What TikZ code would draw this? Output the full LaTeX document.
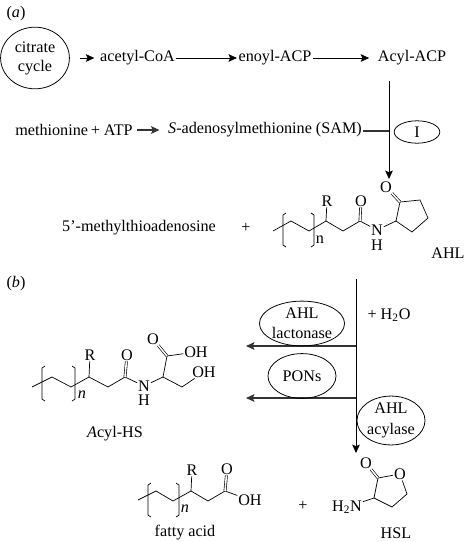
\documentclass[tikz,border=0pt]{standalone}
\usepackage{fontspec}
\setmainfont{Liberation Serif}
\usetikzlibrary{arrows.meta,shapes.geometric}
\begin{document}
\begin{tikzpicture}[x=0.025cm,y=-0.025cm]
\tikzset{
    txt/.style={inner sep=1pt,align=center,font=\fontsize{11.5}{13.5}\selectfont},
    atom/.style={inner sep=0.5pt,font=\fontsize{11.5}{13.5}\selectfont},
    enz/.style={ellipse,draw=black,line width=0.55pt,minimum width=1.7cm,minimum height=1.12cm,inner sep=0pt,align=center,font=\fontsize{11.5}{13.5}\selectfont},
    flow/.style={line width=0.55pt,-{Stealth[length=2.1mm,width=1.9mm,inset=0.4mm]}},
    flowHeavy/.style={flow,line width=0.8pt,draw=black!80},
    bond/.style={line width=0.5pt},
    dbond/.style={line width=0.45pt,double,double distance=1.1pt},
}
\useasboundingbox (0,0) rectangle (468,542);
% (a) top row
\node[txt] (labA) at (16,14) {(\textit{a})};
\node[enz,minimum width=1.72cm,minimum height=1.54cm] (citrate) at (35,58) {citrate\\cycle};
\node[txt] (acetyl) at (137.5,58) {acetyl-CoA};
\node[txt] (enoyl) at (275,58) {enoyl-ACP};
\node[txt] (acyl) at (412,58) {Acyl-ACP};
\draw[flow,shorten <=7pt,shorten >=3pt] (citrate) -- (acetyl);
\draw[flow] (acetyl) -- (enoyl);
\draw[flow,shorten >=5pt] (enoyl) -- (acyl);
% (a) methionine row
\node[txt] (met) at (74,130) {methionine\,+ ATP};
\node[txt] (sam) at (265,130) {\textit{S}-adenosylmethionine (SAM)};
\node[enz,minimum width=1.14cm,minimum height=0.56cm] (enzI) at (417,132) {I};
\coordinate (synTop) at (389,81);
\coordinate (synJoin) at (389,131);
\coordinate (synEnd) at (389,179);
\draw[flowHeavy,shorten <=2pt,shorten >=5pt] (met) -- (sam);
\draw[line width=0.8pt,draw=black!80] (sam.east |- synJoin) -- (synJoin);
\draw[flow] (synTop) -- (synEnd);
\node[txt] (mta) at (139,228) {5’-methylthioadenosine};
\node[txt] (plusA) at (246,228) {+};
\node[txt] (ahlName) at (448,253) {AHL};
% AHL molecule
\node[atom] (ahlR) at (327,201) {R};
\node[atom] (ahlO) at (361,201) {O};
\node[atom] (ahlN) at (377,230) {N};
\node[atom] (ahlH) at (377,245) {H};
\node[atom] (ahlK) at (386,187) {O};
\node[atom] (ahln) at (320,240) {n};
\coordinate (a0) at (273,231);
\coordinate (a1) at (291,221);
\coordinate (a2) at (309,231);
\coordinate (a3) at (326,221);
\coordinate (a4) at (343,231);
\coordinate (a5) at (360,221);
\coordinate (a6) at (396,221);
\coordinate (a7) at (400,202);
\coordinate (a8) at (420,200);
\coordinate (a9) at (428,218);
\coordinate (a10) at (412,232);
\draw[bond] (a0) -- (a1) -- (a2) -- (a3) -- (a4) -- (a5) -- (ahlN) -- (a6) -- (a7) -- (a8) -- (a9) -- (a10) -- (a6);
\draw[bond] (a3) -- (ahlR);
\draw[dbond] (a5) -- (ahlO);
\draw[dbond] (a7) -- (ahlK);
\draw[bond] (286,213) -- (283,215) -- (283,245) -- (286,247);
\draw[bond] (311,213) -- (314,215) -- (314,245) -- (311,247);
% (b) main path
\node[txt] (labB) at (16,284) {(\textit{b})};
\coordinate (hydTop) at (356,279);
\coordinate (hydEnd) at (356,453);
\coordinate (lacJoin) at (356,346);
\coordinate (ponJoin) at (356,398);
\coordinate (lacEnd) at (246,346);
\coordinate (ponEnd) at (246,398);
\draw[flow] (hydTop) -- (hydEnd);
\draw[flowHeavy] (lacJoin) -- (lacEnd);
\draw[flowHeavy] (ponJoin) -- (ponEnd);
\node[enz] (lactonase) at (302,323.5) {AHL\\[1pt]lactonase};
\node[enz] (pons) at (302,376) {PONs};
\node[enz] (acylase) at (391,420.5) {AHL\\[1pt]acylase};
\node[txt] (water) at (389,315) {+ H\textsubscript{2}O};
% Acyl-HS molecule
\node[atom] (hsR) at (90,355) {R};
\node[atom] (hsO) at (127,355) {O};
\node[atom] (hsN) at (144,386) {N};
\node[atom] (hsH) at (144,400) {H};
\node[atom] (hsK) at (153,339) {O};
\node[atom] (hsA) at (196,352) {OH};
\node[atom] (hsB) at (204,372) {OH};
\node[atom] (hsn) at (82,395) {\textit{n}};
\node[txt] (hsName) at (115,434) {\textit{A}cyl-HS};
\coordinate (b0) at (32,387);
\coordinate (b1) at (52,377);
\coordinate (b2) at (71,387);
\coordinate (b3) at (89,377);
\coordinate (b4) at (108,387);
\coordinate (b5) at (125,377);
\coordinate (b6) at (163,377);
\coordinate (b7) at (167,356);
\coordinate (b8) at (182,387);
\draw[bond] (b0) -- (b1) -- (b2) -- (b3) -- (b4) -- (b5) -- (hsN) -- (b6) -- (b7) -- (hsA);
\draw[bond] (b6) -- (b8) -- (hsB);
\draw[bond] (b3) -- (hsR);
\draw[dbond] (b5) -- (hsO);
\draw[dbond] (b7) -- (hsK);
\draw[bond] (45,366) -- (42,368) -- (42,399) -- (45,401);
\draw[bond] (72,366) -- (75,368) -- (75,399) -- (72,401);
% fatty acid
\node[atom] (faR) at (192,470) {R};
\node[atom] (faO) at (227,469) {O};
\node[atom] (faA) at (250,500) {OH};
\node[atom] (fan) at (185,509) {\textit{n}};
\node[txt] (faName) at (185,533) {fatty acid};
\node[txt] (plusB) at (303,506) {+};
\coordinate (c0) at (138,500);
\coordinate (c1) at (156,491);
\coordinate (c2) at (173,501);
\coordinate (c3) at (191,491);
\coordinate (c4) at (208,501);
\coordinate (c5) at (225,491);
\draw[bond] (c0) -- (c1) -- (c2) -- (c3) -- (c4) -- (c5) -- (faA);
\draw[bond] (c3) -- (faR);
\draw[dbond] (c5) -- (faO);
\draw[bond] (151,483) -- (148,485) -- (148,515) -- (151,517);
\draw[bond] (176,483) -- (179,485) -- (179,515) -- (176,517);
% HSL molecule
\node[atom] (hslK) at (366,463) {O};
\node[atom] (hslO) at (400,474) {O};
\node[atom] (hslN) at (347,507) {H\textsubscript{2}N};
\node[txt] (hslName) at (396,533) {HSL};
\coordinate (d1) at (378,478);
\coordinate (d2) at (407,494);
\coordinate (d3) at (392,507);
\coordinate (d4) at (374,498);
\draw[bond] (d1) -- (hslO) -- (d2) -- (d3) -- (d4) -- (d1);
\draw[bond] (d4) -- (hslN);
\draw[dbond] (d1) -- (hslK);
\end{tikzpicture}
\end{document}
